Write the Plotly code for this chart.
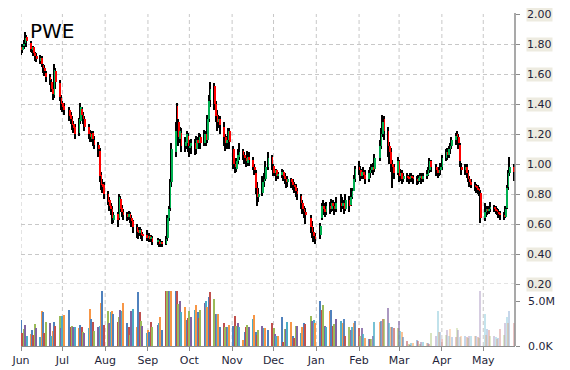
import pandas as pd
import plotly.graph_objects as go

# ---------------- data ----------------
holidays = ["2015-07-03", "2015-09-07", "2015-11-26", "2015-12-25",
            "2016-01-01", "2016-01-18", "2016-02-15", "2016-03-25"]

close_jun = [1.76,1.78,1.80,1.84,1.82,1.77,1.78,1.74,1.72,1.70,1.71,1.67,1.64,1.62,1.58,1.56,1.50,1.47,1.63,1.55,1.45,1.40]
open_jun  = [1.78,1.76,1.79,1.81,1.85,1.81,1.76,1.78,1.74,1.72,1.69,1.71,1.66,1.64,1.61,1.58,1.55,1.50,1.46,1.62,1.54,1.44]
high_jun  = [1.80,1.80,1.83,1.88,1.86,1.82,1.79,1.79,1.75,1.74,1.73,1.72,1.67,1.66,1.62,1.60,1.57,1.53,1.67,1.64,1.56,1.46]
low_jun   = [1.73,1.74,1.77,1.79,1.78,1.75,1.74,1.72,1.69,1.68,1.67,1.65,1.61,1.59,1.55,1.53,1.48,1.43,1.44,1.50,1.42,1.36]

close_jul = [1.38,1.36,1.32,1.30,1.26,1.24,1.20,1.30,1.38,1.33,1.30,1.25,1.20,1.18,1.20,1.17,1.13,1.10,0.92,0.86,0.85,0.80]
open_jul  = [1.41,1.39,1.36,1.33,1.30,1.27,1.25,1.21,1.29,1.37,1.33,1.30,1.25,1.21,1.17,1.21,1.16,1.13,1.09,0.93,0.87,0.86]
high_jul  = [1.42,1.41,1.38,1.35,1.32,1.29,1.27,1.31,1.41,1.38,1.35,1.32,1.27,1.23,1.22,1.22,1.19,1.15,1.11,0.95,0.90,0.88]
low_jul   = [1.35,1.33,1.29,1.27,1.23,1.21,1.17,1.19,1.27,1.30,1.27,1.22,1.17,1.15,1.15,1.12,1.10,1.05,0.88,0.83,0.81,0.77]

close_aug = [0.75,0.72,0.70,0.64,0.66,0.63,0.78,0.70,0.68,0.66,0.65,0.67,0.64,0.62,0.58,0.55,0.54,0.56,0.53,0.52,0.51]
open_aug  = [0.80,0.76,0.72,0.70,0.63,0.67,0.64,0.77,0.71,0.68,0.67,0.65,0.67,0.64,0.62,0.58,0.56,0.54,0.56,0.53,0.53]
high_aug  = [0.82,0.78,0.74,0.72,0.68,0.68,0.80,0.79,0.73,0.70,0.68,0.69,0.68,0.66,0.63,0.60,0.58,0.58,0.57,0.55,0.56]
low_aug   = [0.73,0.69,0.66,0.60,0.61,0.58,0.63,0.68,0.65,0.63,0.62,0.63,0.61,0.58,0.54,0.51,0.50,0.52,0.50,0.49,0.49]

close_sep = [0.52,0.50,0.51,0.48,0.49,0.47,0.48,0.47,0.50,0.64,0.70,0.88,1.10,1.22,1.30,1.18,1.22,1.12,1.15,1.20,1.12]
open_sep  = [0.51,0.52,0.50,0.51,0.48,0.49,0.47,0.48,0.47,0.51,0.64,0.71,0.88,1.08,1.39,1.28,1.17,1.21,1.12,1.14,1.19]
high_sep  = [0.54,0.54,0.53,0.52,0.51,0.50,0.50,0.49,0.52,0.66,0.72,0.90,1.14,1.28,1.41,1.30,1.25,1.24,1.18,1.22,1.21]
low_sep   = [0.49,0.48,0.48,0.46,0.46,0.45,0.45,0.45,0.46,0.49,0.62,0.69,0.85,1.05,1.18,1.12,1.14,1.08,1.08,1.10,1.08]

close_oct = [1.12,1.14,1.10,1.16,1.14,1.18,1.14,1.20,1.16,1.30,1.42,1.50,1.40,1.32,1.28,1.30,1.26,1.18,1.14,1.16,1.22,1.15]
open_oct  = [1.11,1.12,1.14,1.10,1.16,1.14,1.18,1.14,1.20,1.16,1.30,1.43,1.52,1.40,1.33,1.28,1.30,1.25,1.18,1.14,1.16,1.22]
high_oct  = [1.16,1.17,1.17,1.19,1.18,1.21,1.20,1.23,1.22,1.33,1.46,1.55,1.54,1.42,1.36,1.33,1.32,1.28,1.20,1.19,1.24,1.24]
low_oct   = [1.05,1.07,1.06,1.07,1.10,1.11,1.10,1.12,1.12,1.14,1.28,1.38,1.36,1.28,1.22,1.24,1.20,1.12,1.09,1.10,1.12,1.10]

close_nov = [1.00,0.98,1.02,1.06,1.08,1.06,1.04,1.02,1.05,1.03,0.98,0.96,0.84,0.78,0.80,0.88,0.90,0.98,1.04,1.00]
open_nov  = [1.10,1.00,0.97,1.02,1.05,1.09,1.06,1.04,1.01,1.05,1.03,0.98,0.94,0.84,0.78,0.81,0.88,0.90,0.98,1.05]
high_nov  = [1.12,1.02,1.04,1.10,1.14,1.10,1.08,1.06,1.09,1.08,1.05,1.00,0.96,0.88,0.84,0.92,0.94,1.02,1.08,1.06]
low_nov   = [0.97,0.94,0.95,1.00,1.03,1.03,1.00,0.98,0.99,0.99,0.96,0.93,0.80,0.72,0.75,0.79,0.85,0.89,0.96,0.96]

close_dec = [0.94,0.96,0.92,0.93,0.95,0.92,0.90,0.88,0.90,0.88,0.86,0.85,0.82,0.80,0.74,0.70,0.68,0.66,0.58,0.55,0.52,0.50]
open_dec  = [0.99,0.94,0.96,0.92,0.93,0.95,0.92,0.90,0.88,0.90,0.88,0.86,0.85,0.82,0.79,0.74,0.70,0.68,0.64,0.59,0.55,0.52]
high_dec  = [1.00,0.97,0.97,0.95,0.97,0.96,0.94,0.92,0.92,0.91,0.90,0.88,0.87,0.84,0.80,0.76,0.72,0.71,0.66,0.62,0.58,0.54]
low_dec   = [0.92,0.92,0.89,0.90,0.91,0.89,0.87,0.84,0.85,0.84,0.83,0.81,0.78,0.76,0.70,0.67,0.64,0.60,0.54,0.51,0.48,0.47]

close_jan = [0.59,0.72,0.70,0.68,0.72,0.70,0.74,0.72,0.70,0.74,0.72,0.74,0.70,0.76,0.72,0.78,0.82,0.90,0.97]
open_jan  = [0.53,0.64,0.72,0.70,0.68,0.72,0.70,0.74,0.72,0.70,0.74,0.72,0.74,0.70,0.76,0.73,0.78,0.82,0.90]
high_jan  = [0.61,0.74,0.76,0.74,0.75,0.75,0.77,0.76,0.75,0.78,0.80,0.78,0.76,0.80,0.79,0.84,0.84,0.93,0.99]
low_jan   = [0.50,0.63,0.66,0.65,0.66,0.67,0.68,0.69,0.66,0.68,0.68,0.70,0.67,0.69,0.68,0.72,0.77,0.82,0.88]

close_feb = [0.96,0.92,0.95,0.93,0.90,0.94,0.96,0.98,0.96,1.04,1.12,1.20,1.28,1.22,1.12,1.08,1.00,0.98,0.94,1.02]
open_feb  = [0.98,0.96,0.92,0.95,0.93,0.90,0.94,0.96,0.98,0.97,1.04,1.12,1.20,1.30,1.22,1.12,1.08,1.00,0.98,0.94]
high_feb  = [1.02,0.99,0.97,0.98,0.96,0.96,0.98,1.00,1.01,1.07,1.16,1.24,1.33,1.32,1.25,1.15,1.11,1.03,1.00,1.05]
low_feb   = [0.93,0.89,0.90,0.90,0.87,0.88,0.91,0.94,0.93,0.95,1.02,1.10,1.18,1.16,1.05,1.00,0.95,0.84,0.90,0.93]

close_mar = [0.92,0.94,0.90,0.92,0.91,0.90,0.92,0.91,0.90,0.89,0.91,0.92,0.90,0.92,0.93,0.96,1.02,0.98,0.96,0.94,0.96,0.98]
open_mar  = [1.02,0.92,0.94,0.90,0.92,0.91,0.90,0.92,0.91,0.90,0.89,0.91,0.92,0.90,0.92,0.93,0.96,1.02,0.98,0.96,0.94,0.96]
high_mar  = [1.03,0.97,0.96,0.94,0.94,0.93,0.94,0.94,0.93,0.92,0.93,0.94,0.94,0.94,0.96,0.98,1.04,1.03,1.00,0.98,0.98,1.01]
low_mar   = [0.88,0.89,0.87,0.88,0.88,0.87,0.88,0.88,0.87,0.86,0.87,0.88,0.87,0.88,0.90,0.92,0.94,0.95,0.92,0.91,0.92,0.93]

close_apr = [1.04,1.08,1.06,1.10,1.12,1.16,1.19,1.18,1.14,1.02,0.96,0.98,0.94,0.90,0.88,0.86,0.85,0.84,0.83,0.82,0.64]
open_apr  = [0.98,1.04,1.08,1.06,1.10,1.12,1.16,1.20,1.18,1.13,0.98,0.96,0.98,0.94,0.90,0.88,0.86,0.85,0.84,0.83,0.81]
high_apr  = [1.06,1.10,1.11,1.12,1.14,1.18,1.21,1.22,1.20,1.14,1.01,1.00,1.00,0.96,0.92,0.90,0.88,0.87,0.86,0.85,0.83]
low_apr   = [0.96,1.02,1.03,1.04,1.07,1.10,1.13,1.15,1.10,0.98,0.93,0.93,0.91,0.88,0.85,0.84,0.82,0.81,0.80,0.79,0.61]

close_may = [0.68,0.70,0.69,0.70,0.71,0.70,0.69,0.68,0.67,0.66,0.65,0.70,0.84,0.94,0.98,0.95]
open_may  = [0.64,0.68,0.70,0.69,0.70,0.71,0.70,0.69,0.68,0.67,0.66,0.65,0.71,0.85,0.94,0.98]
high_may  = [0.74,0.72,0.72,0.72,0.75,0.73,0.72,0.71,0.70,0.69,0.68,0.72,0.86,0.96,1.05,1.00]
low_may   = [0.62,0.65,0.66,0.67,0.68,0.68,0.67,0.66,0.64,0.63,0.63,0.64,0.70,0.83,0.92,0.89]

# volume in millions of shares
vol_jun = [2.9,1.5,1.9,2.4,1.1,1.4,1.8,1.3,2.5,2.0,1.0,3.9,3.8,1.5,2.7,2.6,1.2,1.7,2.7,2.3,3.4,2.0]
vol_jul = [3.4,3.5,4.0,2.1,2.3,2.1,2.1,2.0,2.4,2.2,1.6,1.5,2.0,4.2,3.0,2.7,1.7,2.2,2.3,4.8,6.1,2.4]
vol_aug = [3.9,2.6,3.8,3.9,3.6,2.7,3.3,4.0,3.9,4.8,2.6,2.2,1.3,3.9,4.2,2.1,6.0,3.8,2.8,2.3,1.5]
vol_sep = [1.8,1.6,2.7,2.1,2.4,2.6,3.3,1.8,6.1,6.1,6.1,6.1,6.1,6.1,6.1,4.7,5.0,3.8,4.4,2.9,3.2]
vol_oct = [3.9,3.3,4.0,4.6,3.8,3.2,4.0,4.8,5.0,4.4,5.5,6.0,5.3,3.6,3.6,3.6,2.1,2.6,2.1,2.1,2.1,2.4]
vol_nov = [2.3,3.4,2.3,2.6,2.1,0.7,1.6,2.1,2.4,2.1,3.0,3.5,1.6,1.3,1.8,2.3,2.0,2.0,1.8,2.6]
vol_dec = [2.0,1.4,1.2,1.2,3.3,0.5,1.9,1.9,2.7,2.7,1.2,0.9,2.3,2.3,1.5,2.1,2.6,2.5,3.4,2.8,2.9,2.6]
vol_jan = [5.0,4.0,4.6,2.3,2.2,3.9,4.0,2.3,2.5,3.0,2.8,2.6,3.0,1.2,2.2,1.8,2.2,2.6,2.8]
vol_feb = [2.0,1.2,2.0,1.4,0.9,0.8,0.8,0.8,1.1,2.7,2.7,2.8,3.0,3.0,4.3,2.6,2.2,2.2,2.0,2.0]
vol_mar = [2.8,1.7,1.6,1.0,0.6,0.3,0.2,0.4,0.4,0.7,0.6,0.3,0.5,0.5,0.4,0.4,0.3,1.5,1.2,3.9,1.6,1.6]
vol_apr = [0.8,1.3,1.8,1.1,1.9,1.0,1.0,2.0,1.8,1.0,1.2,1.2,1.0,0.9,1.2,1.2,1.1,1.1,1.0,0.9,6.1]
vol_may = [3.6,1.3,1.9,1.8,1.1,1.2,1.0,0.8,0.9,1.9,1.3,2.6,3.3,2.6,3.9,2.6]

month_starts = ["2015-06-01","2015-07-01","2015-08-01","2015-09-01","2015-10-01","2015-11-01",
                "2015-12-01","2016-01-01","2016-02-01","2016-03-01","2016-04-01","2016-05-01"]
month_labels = ["Jun","Jul","Aug","Sep","Oct","Nov","Dec","Jan","Feb","Mar","Apr","May"]
price_ticks = [2.00,1.80,1.60,1.40,1.20,1.00,0.80,0.60,0.40,0.20]
vol_ticks = [0, 5.0]
vol_tick_labels = ["0.0K", "5.0M"]
symbol = "PWE"

# ---------------- assemble ----------------
months = ["jun","jul","aug","sep","oct","nov","dec","jan","feb","mar","apr","may"]
g = globals()
O = sum((g["open_" + m] for m in months), [])
H = sum((g["high_" + m] for m in months), [])
L = sum((g["low_" + m] for m in months), [])
C = sum((g["close_" + m] for m in months), [])
V = sum((g["vol_" + m] for m in months), [])

dates = [d for d in pd.bdate_range("2015-06-01", "2016-05-23") if d.strftime("%Y-%m-%d") not in holidays]
n = len(dates)
assert len(O) == len(H) == len(L) == len(C) == len(V) == n, (len(O), len(H), len(L), len(C), len(V), n)

DAY = 86400000
GREEN, RED = "#00B050", "#FF0000"
palette = ["#4F81BD", "#C0504D", "#9BBB59", "#8064A2", "#4BACC6", "#F79646"]
TXT = "#1F1F3A"
GRID = "#C8C8C8"
AX = "#8C8C8C"

fade_start = pd.Timestamp("2016-01-15")
fade_end = pd.Timestamp("2016-04-01")
vol_opacity = []
for d in dates:
    if d <= fade_start:
        vol_opacity.append(1.0)
    elif d >= fade_end:
        vol_opacity.append(0.32)
    else:
        t = (d - fade_start) / (fade_end - fade_start)
        vol_opacity.append(1.0 - 0.68 * t)

body_base = [min(o, c) for o, c in zip(O, C)]
body_h = [max(abs(c - o), 0.004) for o, c in zip(O, C)]
body_col = [GREEN if c >= o else RED for o, c in zip(O, C)]

fig = go.Figure()
fig.add_trace(go.Bar(x=dates, y=[h - l for h, l in zip(H, L)], base=L,
                     width=0.8 * DAY, marker=dict(color="#000000", line=dict(width=0)),
                     yaxis="y", hoverinfo="skip"))
fig.add_trace(go.Bar(x=dates, y=body_h, base=body_base,
                     width=0.5 * DAY, offset=0.1 * DAY,
                     marker=dict(color=body_col, line=dict(width=0)),
                     yaxis="y", hoverinfo="skip"))
fig.add_trace(go.Bar(x=dates, y=[v * 1e6 for v in V],
                     width=0.75 * DAY,
                     marker=dict(color=[palette[i % len(palette)] for i in range(n)],
                                 opacity=vol_opacity, line=dict(width=0)),
                     yaxis="y2", hoverinfo="skip"))

# The page body adds an 8px margin, so the figure is sized/offset to land the plot
# area at window x 21..516, y 14..346.
OFF = 8
W, Hh = 570 - OFF, 370 - OFF
ml, mt = 21 - OFF, 14 - OFF
pw = 494.5
ph = 332
mr = W - ml - pw
mb = Hh - mt - ph
price_bottom = (346 - 284) / ph
vol_top = (346 - 290.7) / ph

shapes = []
for ms in month_starts:
    shapes.append(dict(type="line", xref="x", yref="paper", x0=ms, x1=ms, y0=0, y1=1,
                       line=dict(color=GRID, width=1, dash="4px,3px"), layer="below"))
shapes.append(dict(type="line", xref="paper", yref="paper", x0=1, x1=1, y0=0, y1=1.003,
                   line=dict(color=AX, width=1.5)))
shapes.append(dict(type="line", xref="paper", yref="y", x0=0, x1=1, y0=0.20, y1=0.20,
                   line=dict(color=GRID, width=1, dash="4px,3px"), layer="below"))

annotations = [dict(text=symbol, xref="paper", yref="paper", x=(28 - 21) / pw,
                    y=1 - (31.5 - 14) / ph, xanchor="left", yanchor="middle", showarrow=False,
                    font=dict(family="DejaVu Sans", size=20, color="#000000"))]
for p in price_ticks:
    annotations.append(dict(text="%.2f" % p, xref="paper", yref="y", x=1, y=p, xanchor="left",
                            yanchor="middle", xshift=11, showarrow=False, bgcolor="#EDEBE0",
                            borderpad=0, font=dict(family="DejaVu Sans", size=11, color=TXT)))
for v, t in zip(vol_ticks, vol_tick_labels):
    annotations.append(dict(text=t, xref="paper", yref="y2", x=1, y=v * 1e6, xanchor="left",
                            yanchor="middle", xshift=11, showarrow=False,
                            font=dict(family="DejaVu Sans", size=11, color=TXT)))

fig.update_layout(
    width=W, height=Hh, margin=dict(l=ml, r=mr, t=mt, b=mb, autoexpand=False),
    paper_bgcolor="white", plot_bgcolor="white", showlegend=False,
    barmode="overlay", bargap=0,
    font=dict(family="DejaVu Sans", size=11, color=TXT),
    xaxis=dict(type="date", range=["2015-06-01", "2016-05-24"], anchor="y2", automargin=False,
               tickvals=month_starts, ticktext=month_labels, showgrid=False, zeroline=False,
               showline=True, linecolor=AX, linewidth=1, ticks="outside", ticklen=4,
               tickcolor=AX, tickfont=dict(family="DejaVu Sans", size=11, color=TXT)),
    yaxis=dict(domain=[price_bottom, 1], range=[0.2, 2.0], side="right", tickvals=price_ticks,
               showticklabels=False, ticks="outside", ticklen=4, tickcolor=AX, automargin=False,
               showgrid=True, gridcolor=GRID, griddash="4px,3px", gridwidth=1,
               zeroline=False, showline=False),
    yaxis2=dict(domain=[0, vol_top], range=[0, 6.15e6], side="right", anchor="x",
                tickvals=[v * 1e6 for v in vol_ticks], showticklabels=False, automargin=False,
                ticks="outside", ticklen=4, tickcolor=AX, showgrid=False,
                zeroline=False, showline=False),
    shapes=shapes, annotations=annotations,
)

fig.write_html("out.html")
